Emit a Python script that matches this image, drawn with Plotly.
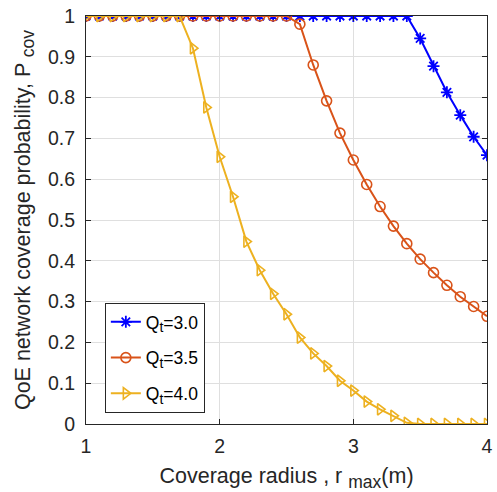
import plotly.graph_objects as go

# Coverage radius r_max (m), sampled every 0.1 m
radius = [round(1.0 + 0.1 * i, 1) for i in range(31)]

# Coverage probability for each QoE threshold Q_t
p_q30 = [1.0] * 25 + [0.945, 0.877, 0.813, 0.757, 0.704, 0.659]
p_q35 = [1.0] * 16 + [0.980, 0.880, 0.792, 0.713, 0.647, 0.587, 0.533,
                      0.485, 0.442, 0.404, 0.371, 0.340, 0.312, 0.288, 0.264]
p_q40 = [1.0] * 8 + [0.921, 0.776, 0.655, 0.557, 0.447, 0.377, 0.319, 0.269,
                     0.212, 0.173, 0.142, 0.106, 0.082, 0.055, 0.036, 0.020,
                     0.003, 0.0, 0.0, 0.0, 0.0, 0.0, 0.0]

SUB = '<sub><span style="font-size:{}px">{}</span></sub>'
series_names = ["Q" + SUB.format(14, "t") + "=3.0",
                "Q" + SUB.format(14, "t") + "=3.5",
                "Q" + SUB.format(14, "t") + "=4.0"]
x_ticks = [1, 2, 3, 4]
y_ticks = [round(0.1 * i, 1) for i in range(11)]

BLUE = "#0000FF"
ORANGE = "#D95319"
YELLOW = "#EDB120"
AXIS = "#262626"
FONT = "Liberation Sans, Arial, sans-serif"

fig = go.Figure()
fig.add_trace(go.Scatter(
    x=radius, y=p_q30, name=series_names[0], mode="lines+markers",
    line=dict(color=BLUE, width=2), legendgroup="a",
    marker=dict(symbol="asterisk", size=10, color=BLUE,
                line=dict(color=BLUE, width=1.8))))
fig.add_trace(go.Scatter(
    x=radius, y=p_q35, name=series_names[1], mode="lines+markers",
    line=dict(color=ORANGE, width=2), legendgroup="b",
    marker=dict(symbol="circle-open", size=10, color=ORANGE,
                line=dict(color=ORANGE, width=1.6))))
fig.add_trace(go.Scatter(
    x=radius, y=p_q40, name=series_names[2], mode="lines+markers",
    line=dict(color=YELLOW, width=2), legendgroup="c",
    marker=dict(symbol="triangle-right-open", size=10, color=YELLOW,
                line=dict(color=YELLOW, width=1.6))))

axis_common = dict(
    showline=True, linecolor=AXIS, linewidth=1, mirror="ticks",
    ticks="inside", ticklen=5, tickcolor=AXIS, automargin=False,
    showgrid=True, gridcolor="#DFDFDF", gridwidth=1, zeroline=False,
    tickfont=dict(family=FONT, size=19.5, color=AXIS),
)

fig.update_layout(
    width=497, height=492,
    margin=dict(l=86, r=10, t=16, b=68),
    paper_bgcolor="white", plot_bgcolor="white",
    font=dict(family=FONT, color=AXIS),
    xaxis=dict(range=[1, 4], tickvals=x_ticks, ticklabelstandoff=5,
               title=dict(text="Coverage radius , r " + SUB.format(17.5, "max") + "(m)",
                          font=dict(family=FONT, size=21.5, color=AXIS),
                          standoff=20),
               **axis_common),
    yaxis=dict(range=[0, 1], tickvals=y_ticks,
               ticktext=[("%g" % v) for v in y_ticks], ticklabelstandoff=6,
               title=dict(text="QoE network coverage probability, P " + SUB.format(17.5, "cov"),
                          font=dict(family=FONT, size=21.5, color=AXIS),
                          standoff=11),
               **axis_common),
    legend=dict(x=0.047, y=0.2966, xanchor="left", yanchor="top",
                bgcolor="white", bordercolor=AXIS, borderwidth=1,
                font=dict(family=FONT, size=17.5, color="black"),
                tracegroupgap=10),
)

fig.write_html("out.html")
